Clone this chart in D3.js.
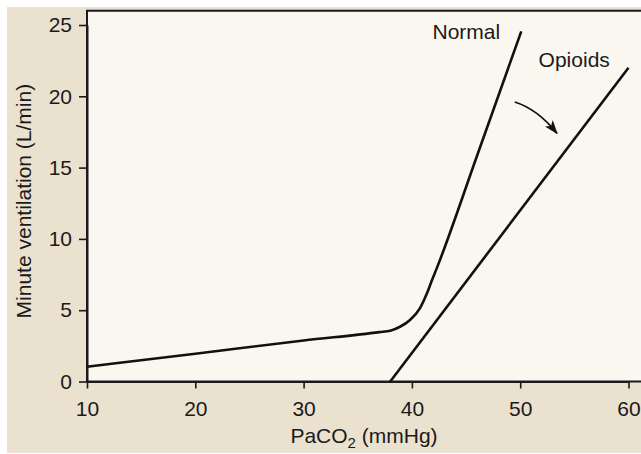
<!DOCTYPE html>
<html>
<head>
<meta charset="utf-8">
<script src="https://cdn.jsdelivr.net/npm/d3@7"></script>
<style>
  html, body { margin: 0; padding: 0; background: #ffffff; }
  svg { display: block; }
  text { font-family: "Liberation Sans", Arial, Helvetica, sans-serif; fill: #1a1a1a; }
</style>
</head>
<body>
<svg id="chart" width="641" height="454"></svg>
<script>
// ---- data ----
const xTicks = [10, 20, 30, 40, 50, 60];
const yTicks = [0, 5, 10, 15, 20, 25];
const normalPaCO2 = [10, 20, 30, 37, 38, 38.9, 39.8, 40.75, 41.4, 41.85, 42.3, 46, 50.1];
const normalVent  = [1.03, 1.95, 2.87, 3.46, 3.56, 3.84, 4.3, 5.15, 6.2, 7.1, 7.95, 15.8, 24.55];
const opioidPaCO2 = [38, 60];
const opioidVent  = [0, 22];
const seriesLabels = ["Normal", "Opioids"];
const labelPaCO2 = [41.9, 51.7];
const labelVent  = [24.0, 22.05];
const arrowPaCO2 = [49.5, 51.6, 53.4];   // start, control, end
const arrowVent  = [19.6, 19.1, 17.4];
const xTitle = "PaCO";
const xTitleSub = "2";
const xTitleTail = " (mmHg)";
const yTitle = "Minute ventilation (L/min)";

// ---- layout ----
const svg = d3.select("#chart");
const W = 641, H = 454;
const x = d3.scaleLinear().domain([10, 60]).range([87, 628.5]);
const y = d3.scaleLinear().domain([0, 25]).range([381.5, 25]);

// outer beige panel
svg.append("rect").attr("x", 7).attr("y", 7).attr("width", W - 7).attr("height", 446)
  .attr("fill", "#ebe1cf");

// plot panel
const plotTop = y(26), plotBottom = y(0), plotLeft = x(10);
svg.append("rect").attr("x", plotLeft).attr("y", plotTop).attr("width", W + 10 - plotLeft).attr("height", plotBottom - plotTop)
  .attr("fill", "#faf6f0").attr("stroke", "#1a1a1a").attr("stroke-width", 2);

// axes
const fontSize = 21;
const xAxis = svg.append("g").attr("transform", `translate(0,${plotBottom})`)
  .call(d3.axisBottom(x).tickValues(xTicks).tickSize(7).tickSizeOuter(0).tickPadding(13));
const yAxis = svg.append("g").attr("transform", `translate(${plotLeft},0)`)
  .call(d3.axisLeft(y).tickValues(yTicks).tickSize(8).tickSizeOuter(0).tickPadding(7));
[xAxis, yAxis].forEach(g => {
  g.select(".domain").attr("stroke", "#1a1a1a").attr("stroke-width", 2);
  g.selectAll(".tick line").attr("stroke", "#1a1a1a").attr("stroke-width", 1.6);
  g.selectAll(".tick text").attr("font-size", fontSize)
    .attr("font-family", '"Liberation Sans", Arial, sans-serif').attr("fill", "#1a1a1a");
});
xAxis.selectAll(".tick text").attr("dy", "0.71em");

// lines
const line = d3.line().x(d => x(d[0])).y(d => y(d[1])).curve(d3.curveMonotoneX);
const normalPts = normalPaCO2.map((v, i) => [v, normalVent[i]]);
const opioidPts = opioidPaCO2.map((v, i) => [v, opioidVent[i]]);
svg.append("path").datum(normalPts).attr("d", line)
  .attr("fill", "none").attr("stroke", "#111").attr("stroke-width", 2.6);
svg.append("path").datum(opioidPts).attr("d", d3.line().x(d => x(d[0])).y(d => y(d[1])))
  .attr("fill", "none").attr("stroke", "#111").attr("stroke-width", 2.6);

// series labels
svg.selectAll("text.series").data(seriesLabels).join("text").attr("class", "series")
  .attr("x", (d, i) => x(labelPaCO2[i])).attr("y", (d, i) => y(labelVent[i]))
  .attr("font-size", fontSize).attr("text-anchor", "start").text(d => d);

// arrow
const defs = svg.append("defs");
defs.append("marker").attr("id", "ah").attr("viewBox", "0 0 14 10")
  .attr("refX", 13).attr("refY", 5).attr("markerWidth", 14).attr("markerHeight", 10)
  .attr("markerUnits", "userSpaceOnUse").attr("orient", "auto")
  .append("path").attr("d", "M0,0 L14,5 L0,10 L3.5,5 Z").attr("fill", "#111");
const p = d3.path();
p.moveTo(x(arrowPaCO2[0]), y(arrowVent[0]));
p.quadraticCurveTo(x(arrowPaCO2[1]), y(arrowVent[1]), x(arrowPaCO2[2]), y(arrowVent[2]));
svg.append("path").attr("d", p.toString()).attr("fill", "none")
  .attr("stroke", "#111").attr("stroke-width", 1.8).attr("marker-end", "url(#ah)");

// axis titles
const xt = svg.append("text").attr("x", (plotLeft + W) / 2).attr("y", 443)
  .attr("text-anchor", "middle").attr("font-size", fontSize);
xt.append("tspan").text(xTitle);
xt.append("tspan").attr("font-size", 15).attr("dy", 5).text(xTitleSub);
xt.append("tspan").attr("dy", -5).text(xTitleTail);

svg.append("text").attr("transform", `translate(31,${(plotTop + plotBottom) / 2 + 5}) rotate(-90)`)
  .attr("text-anchor", "middle").attr("font-size", fontSize).text(yTitle);
</script>
</body>
</html>
